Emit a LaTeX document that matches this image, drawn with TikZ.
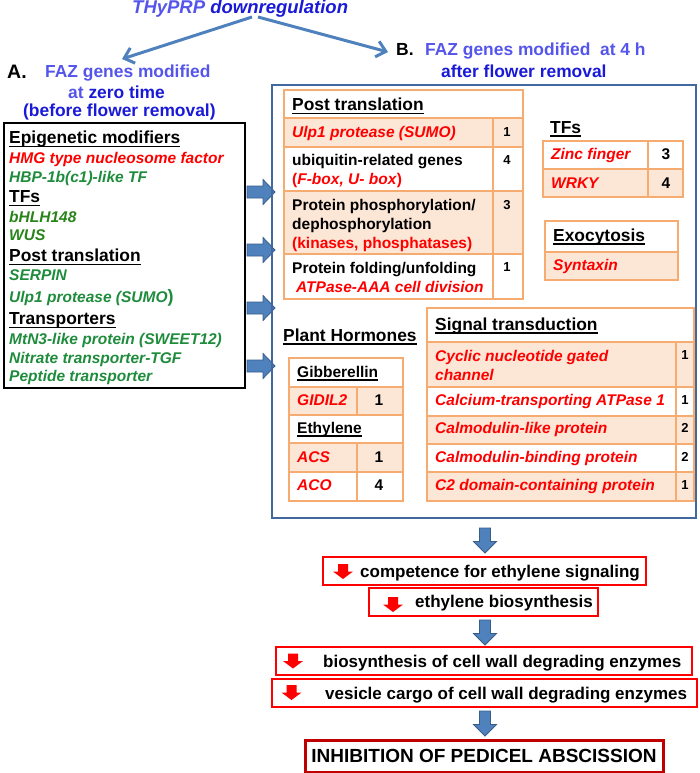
\documentclass[tikz,border=0pt]{standalone}
\usepackage{fontspec}
\setmainfont{Liberation Sans}
\usetikzlibrary{arrows.meta}
\definecolor{tblue}{RGB}{85,85,235}
\definecolor{dblue}{RGB}{25,25,215}
\definecolor{abl}{RGB}{79,129,189}
\definecolor{abd}{RGB}{56,93,138}
\definecolor{boxb}{RGB}{65,105,160}
\definecolor{obord}{RGB}{246,172,112}
\definecolor{pfill}{RGB}{252,230,214}
\definecolor{gA}{RGB}{30,140,60}
\definecolor{gB}{RGB}{40,132,25}
\definecolor{dred}{RGB}{192,0,0}
\newcommand\ulx[1]{\vtop{\hbox{\smash{#1}}\kern2pt\hrule height1.5pt}}
\begin{document}
\begin{tikzpicture}[x=1pt,y=-1pt,
  hd/.style={anchor=base west, inner sep=0pt, font=\bfseries\fontsize{17.4}{20}\selectfont},
  tx/.style={anchor=base west, inner sep=0pt, font=\bfseries\fontsize{15.5}{18}\selectfont},
  ti/.style={anchor=base west, inner sep=0pt, font=\bfseries\itshape\fontsize{15.5}{18}\selectfont},
  btx/.style={anchor=base west, inner sep=0pt, font=\bfseries\fontsize{17}{20}\selectfont},
  num/.style={anchor=base, inner sep=0pt, font=\bfseries\fontsize{13}{15}\selectfont},
  numL/.style={anchor=base, inner sep=0pt, font=\bfseries\fontsize{15.5}{18}\selectfont},
  pc/.style={draw=obord, line width=1.3pt, fill=pfill},
  wc/.style={draw=obord, line width=1.3pt, fill=white},
  rbox/.style={draw=red, line width=2pt},
  tarrow/.style={draw=abl, line width=3pt, -{Straight Barb[length=9pt,width=16pt]}},
  rblk/.pic={\filldraw[draw=abd, fill=abl, line width=0.8pt] (-14,-6) -- (2,-6) -- (2,-12.5) -- (14,0) -- (2,12.5) -- (2,6) -- (-14,6) -- cycle;},
  dblk/.pic={\filldraw[draw=abd, fill=abl, line width=0.8pt] (-5.5,-12.5) -- (-5.5,1) -- (-11.5,1) -- (0,12.5) -- (11.5,1) -- (5.5,1) -- (5.5,-12.5) -- cycle;},
  rdn/.pic={\fill[red] (-5,-7.5) -- (-5,0) -- (-10,0) -- (0,7.5) -- (10,0) -- (5,0) -- (5,-7.5) -- cycle;}
]
\useasboundingbox (0,0) rectangle (700,773);

% ---------- title ----------
\node[anchor=base west, inner sep=0pt, font=\bfseries\itshape\fontsize{18.5}{22}\selectfont] (title) at (132,13.6) {\textcolor{tblue}{THyPRP} \textcolor{dblue}{downregulation}};
\coordinate (tsL) at (252,17);
\coordinate (tsR) at (258,17);
\coordinate (teL) at (122,59);
\coordinate (teR) at (388,52);
\draw[tarrow] (tsL) -- (teL);
\draw[tarrow] (tsR) -- (teR);

% ---------- A heading ----------
\node[anchor=base west, inner sep=0pt, font=\bfseries\fontsize{19.5}{22}\selectfont] (labA) at (7,78.3) {A.};
\node[hd, text=tblue] (a1) at (45,77.5) {FAZ genes modified};
\node[hd] (a2) at (68,98.5) {\textcolor{tblue}{at} \textcolor{dblue}{zero time}};
\node[hd, text=dblue] (a3) at (23,116.7) {(before flower removal)};

% ---------- B heading ----------
\node[anchor=base west, inner sep=0pt, font=\bfseries\fontsize{17.5}{20}\selectfont] (labB) at (396,56) {B.};
\node[hd, text=tblue] (b1) at (425,56) {FAZ genes modified\ \ at 4 h};
\node[hd, text=dblue] (b2) at (441,78) {after flower removal};

% ---------- Box A ----------
\draw[line width=2.5pt] (4,123) rectangle (245,388);
\node[hd] (aep) at (9,143.5) {\ulx{Epigenetic modifiers}};
\node[ti, text=red] (ahmg) at (9,163) {HMG type nucleosome factor};
\node[ti, text=gA] (ahbp) at (9,182) {HBP-1b(c1)-like TF};
\node[hd] (atf) at (9,202.5) {\ulx{TFs}};
\node[ti, text=gB] (abh) at (9,222) {bHLH148};
\node[ti, text=gB] (awus) at (9,240) {WUS};
\node[hd] (apt) at (9,261.5) {\ulx{Post translation}};
\node[ti, text=gA] (aser) at (9,280.5) {SERPIN};
\node[ti, text=gA] (aulp) at (9,302) {Ulp1 protease (SUMO{\upshape\fontsize{18}{20}\selectfont )}};
\node[hd] (atr) at (9,324.5) {\ulx{Transporters}};
\node[ti, text=gA] (amtn) at (9,344) {MtN3-like protein (SWEET12)};
\node[ti, text=gA] (anit) at (9,363) {Nitrate transporter-TGF};
\node[ti, text=gA] (apep) at (9,381) {Peptide transporter};

% ---------- block arrows A -> B ----------
\pic at (261,192) {rblk};
\pic at (261,250) {rblk};
\pic at (261,308) {rblk};
\pic at (261,366) {rblk};

% ---------- Box B ----------
\draw[boxb, line width=2.5pt] (272,85) rectangle (696,518);

% Post translation table
\filldraw[wc] (284,90) rectangle (523,118);
\filldraw[pc] (284,118) rectangle (493,147); \filldraw[pc] (493,118) rectangle (523,147);
\filldraw[wc] (284,147) rectangle (493,191); \filldraw[wc] (493,147) rectangle (523,191);
\filldraw[pc] (284,191) rectangle (493,254); \filldraw[pc] (493,191) rectangle (523,254);
\filldraw[wc] (284,254) rectangle (493,299); \filldraw[wc] (493,254) rectangle (523,299);
\node[hd] (bpt) at (292,110.7) {\ulx{Post translation}};
\node[ti, text=red] (bulp) at (292,137.3) {Ulp1 protease (SUMO)};
\node[tx] (bub1) at (292,165.3) {ubiquitin-related genes};
\node[tx, text=red] (bub2) at (292,184.3) {(\textit{F-box, U- box})};
\node[tx] (bph1) at (292,210.3) {Protein phosphorylation/};
\node[tx] (bph2) at (292,229.3) {dephosphorylation};
\node[tx, text=red] (bph3) at (292,248.3) {(kinases, phosphatases)};
\node[tx] (bfo1) at (292,273.3) {Protein folding/unfolding};
\node[ti, text=red] (bfo2) at (296,292.3) {ATPase-AAA cell division};
\node[num] (n1) at (507,136.5) {1};
\node[num] (n2) at (507,164.5) {4};
\node[num] (n3) at (507,209.5) {3};
\node[num] (n4) at (507,271.5) {1};

% TFs
\node[hd] (btf) at (550,133) {\ulx{TFs}};
\filldraw[wc] (543,141) rectangle (648,169); \filldraw[wc] (648,141) rectangle (683,169);
\filldraw[pc] (543,169) rectangle (648,197); \filldraw[pc] (648,169) rectangle (683,197);
\node[ti, text=red] (bzn) at (551,159.3) {Zinc finger};
\node[ti, text=red] (bwr) at (551,188.3) {WRKY};
\node[numL] (n5) at (666,159.5) {3};
\node[numL] (n6) at (666,188.5) {4};

% Exocytosis
\filldraw[wc] (545,221) rectangle (678,252);
\filldraw[pc] (545,252) rectangle (678,280);
\node[hd] (bex) at (553,241) {\ulx{Exocytosis}};
\node[ti, text=red] (bsy) at (553,270.3) {Syntaxin};

% Plant hormones
\node[hd] (bph) at (283,341) {\ulx{Plant Hormones}};
\filldraw[wc] (289,358) rectangle (403,387);
\filldraw[pc] (289,387) rectangle (357,415); \filldraw[pc] (357,387) rectangle (403,415);
\filldraw[wc] (289,415) rectangle (403,443);
\filldraw[pc] (289,443) rectangle (357,472); \filldraw[pc] (357,443) rectangle (403,472);
\filldraw[wc] (289,472) rectangle (357,501); \filldraw[wc] (357,472) rectangle (403,501);
\node[tx] (bgib) at (297,377.3) {\ulx{Gibberellin}};
\node[ti, text=red] (bgid) at (297,405.3) {GIDIL2};
\node[tx] (beth) at (297,433.3) {\ulx{Ethylene}};
\node[ti, text=red] (bacs) at (297,462.3) {ACS};
\node[ti, text=red] (baco) at (297,490.3) {ACO};
\node[numL] (n7) at (379,405.5) {1};
\node[numL] (n8) at (379,462.5) {1};
\node[numL] (n9) at (379,490.5) {4};

% Signal transduction
\filldraw[wc] (427,308) rectangle (694,342);
\filldraw[pc] (427,342) rectangle (676,387); \filldraw[pc] (676,342) rectangle (694,387);
\filldraw[wc] (427,387) rectangle (676,416); \filldraw[wc] (676,387) rectangle (694,416);
\filldraw[pc] (427,416) rectangle (676,444); \filldraw[pc] (676,416) rectangle (694,444);
\filldraw[wc] (427,444) rectangle (676,472); \filldraw[wc] (676,444) rectangle (694,472);
\filldraw[pc] (427,472) rectangle (676,501); \filldraw[pc] (676,472) rectangle (694,501);
\node[hd] (bst) at (435,330) {\ulx{Signal transduction}};
\node[ti, text=red] (bcy1) at (435,361.3) {Cyclic nucleotide gated};
\node[ti, text=red] (bcy2) at (435,380.3) {channel};
\node[ti, text=red] (bca) at (435,405.3) {Calcium-transporting ATPase 1};
\node[ti, text=red] (bcl) at (435,433.3) {Calmodulin-like protein};
\node[ti, text=red] (bcb) at (435,462.3) {Calmodulin-binding protein};
\node[ti, text=red] (bc2) at (435,490.3) {C2 domain-containing protein};
\node[num] (s1) at (685,359.5) {1};
\node[num] (s2) at (685,404.5) {1};
\node[num] (s3) at (685,432.5) {2};
\node[num] (s4) at (685,461.5) {2};
\node[num] (s5) at (685,489.5) {1};

% ---------- lower flow ----------
\pic at (485,540.5) {dblk};
\draw[rbox] (323,557) rectangle (646,585);
\pic at (343,571.5) {rdn};
\node[btx] (c1) at (360,577.5) {competence for ethylene signaling};
\draw[rbox] (369,588) rectangle (598,616);
\pic at (393,604.5) {rdn};
\node[btx] (c2) at (415,607.5) {ethylene biosynthesis};
\pic at (485,632.5) {dblk};
\draw[rbox] (276,647) rectangle (692,675);
\pic at (293,661) {rdn};
\node[btx] (c3) at (323,667.5) {biosynthesis of cell wall degrading enzymes};
\draw[rbox] (272,679) rectangle (697,707);
\pic at (291.5,692.5) {rdn};
\node[btx] (c4) at (325,699) {vesicle cargo of cell wall degrading enzymes};
\pic at (485,723.5) {dblk};
\node[draw=dred, line width=3pt, minimum width=358pt, minimum height=32pt, inner sep=0pt,
      font=\bfseries\fontsize{19}{22}\selectfont] (inh) at (484,756) {INHIBITION OF PEDICEL ABSCISSION};
\end{tikzpicture}
\end{document}
